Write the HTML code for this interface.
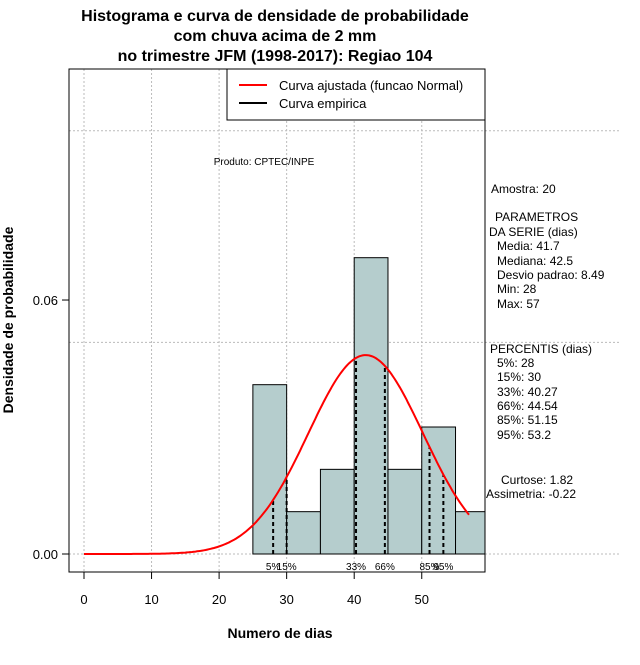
<!DOCTYPE html>
<html><head><meta charset="utf-8"><style>
body{margin:0;background:#fff;}
svg text{font-family:"Liberation Sans",sans-serif;}
</style></head><body>
<svg id="c" width="640" height="660" xmlns="http://www.w3.org/2000/svg">
<text x="275" y="21" font-size="16" font-weight="bold" text-anchor="middle"><tspan x="275">Histograma e curva de densidade de probabilidade</tspan><tspan x="275" dy="20">com chuva acima de 2 mm</tspan><tspan x="275" dy="20">no trimestre JFM (1998-2017): Regiao 104</tspan></text>
<g id="grid"></g>
<g id="bars"></g>
<g id="pct"></g>
<path id="curve" fill="none" stroke="#ff0000" stroke-width="2"/>
<rect x="69" y="69" width="416" height="503" fill="none" stroke="#000"/>
<g id="axes" font-size="13"></g>
<text x="520" y="638" font-size="14" font-weight="bold" text-anchor="middle" transform="translate(-240,0)">Numero de dias</text>
<text transform="translate(13,320) rotate(-90)" font-size="14" font-weight="bold" text-anchor="middle">Densidade de probabilidade</text>
<text x="264" y="165" font-size="10" text-anchor="middle">Produto: CPTEC/INPE</text>
<g>
<rect x="227" y="69" width="258" height="51" fill="#fff" stroke="#000"/>
<line x1="239" y1="85" x2="267" y2="85" stroke="#ff0000" stroke-width="2"/>
<text x="279" y="90" font-size="13">Curva ajustada (funcao Normal)</text>
<line x1="239" y1="103" x2="267" y2="103" stroke="#000" stroke-width="2"/>
<text x="279" y="108" font-size="13">Curva empirica</text>
</g>
<g font-size="12">
<text x="491" y="193">Amostra: 20</text>
<text x="495" y="221">PARAMETROS</text>
<text x="489" y="236">DA SERIE (dias)</text>
<text x="497" y="250">Media: 41.7</text>
<text x="497" y="265">Mediana: 42.5</text>
<text x="497" y="279">Desvio padrao: 8.49</text>
<text x="497" y="293">Min: 28</text>
<text x="497" y="308">Max: 57</text>
<text x="490" y="353">PERCENTIS (dias)</text>
<text x="497" y="367">5%: 28</text>
<text x="497" y="381">15%: 30</text>
<text x="497" y="396">33%: 40.27</text>
<text x="497" y="410">66%: 44.54</text>
<text x="497" y="424">85%: 51.15</text>
<text x="497" y="439">95%: 53.2</text>
<text x="501" y="484">Curtose: 1.82</text>
<text x="486" y="498">Assimetria: -0.22</text>
</g>
</svg>
<script>
const binStarts=[25,30,35,40,45,50,55];
const densities=[0.04,0.01,0.02,0.07,0.02,0.03,0.01];
const binWidth=5;
const pctValues=[28,30,40.27,44.54,51.15,53.2];
const pctLabels=["5%","15%","33%","66%","85%","95%"];
const xTicks=[0,10,20,30,40,50];
const yTicks=[0,0.06];
const yTickLabels=["0.00","0.06"];
const gridY=[0,0.05,0.1];
const mean=41.7, sd=8.49, curveMin=0, curveMax=57;
const X=v=>84+v*6.755, Y=v=>554-v*4233;
const NS="http://www.w3.org/2000/svg";
function mk(p,t,a){const e=document.createElementNS(NS,t);for(const k in a)e.setAttribute(k,a[k]);p.appendChild(e);return e;}
const grid=document.getElementById('grid');
xTicks.forEach(t=>{const l=mk(grid,'line',{x1:X(t),x2:X(t),y1:69,y2:572,stroke:'#bbb','stroke-dasharray':'2,2'});

});
gridY.forEach(t=>{const l=mk(grid,'line',{x1:69,x2:620,y1:Y(t),y2:Y(t),stroke:'#bbb','stroke-dasharray':'2,2'});

});
const bars=document.getElementById('bars');
binStarts.forEach((s,i)=>{const x0=X(s),x1=Math.min(X(s+binWidth),485);
const r=mk(bars,'rect',{x:x0,y:Y(densities[i]),width:x1-x0,height:Y(0)-Y(densities[i]),fill:'#b5cdcd',stroke:'#000'});

});
const dens=v=>Math.exp(-0.5*((v-mean)/sd)**2)/(sd*Math.sqrt(2*Math.PI));
let d='';for(let v=curveMin;v<=curveMax+1e-9;v+=0.25)d+=(d?'L':'M')+X(v).toFixed(1)+','+Y(dens(v)).toFixed(1);
document.getElementById('curve').setAttribute('d',d);
const pct=document.getElementById('pct');
pctValues.forEach((v,i)=>{const l=mk(pct,'line',{x1:X(v),x2:X(v),y1:Y(0),y2:Y(dens(v)),stroke:'#000','stroke-width':2,'stroke-dasharray':'4,3'});


const t=mk(pct,'text',{x:X(v),y:570,'font-size':10,'text-anchor':'middle'});t.textContent=pctLabels[i];

});
const ax=document.getElementById('axes');
xTicks.forEach(t=>{mk(ax,'line',{x1:X(t),x2:X(t),y1:572,y2:579,stroke:'#000'});
const e=mk(ax,'text',{x:X(t),y:604,'text-anchor':'middle'});e.textContent=t;

});
yTicks.forEach((t,i)=>{mk(ax,'line',{x1:62,x2:69,y1:Y(t),y2:Y(t),stroke:'#000'});
const e=mk(ax,'text',{x:58,y:Y(t)+5,'text-anchor':'end'});e.textContent=yTickLabels[i];

});
</script>
</body></html>
